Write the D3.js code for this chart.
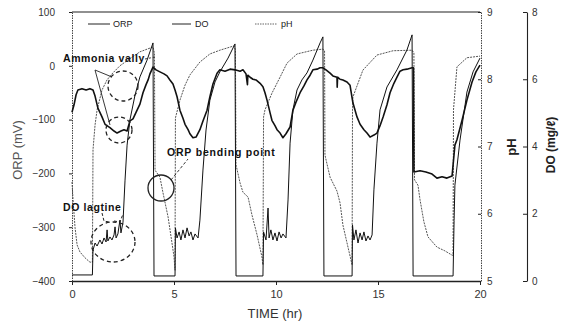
<!DOCTYPE html>
<html><head><meta charset="utf-8">
<script src="https://cdn.jsdelivr.net/npm/d3@7"></script>
<style>
body{margin:0;background:#fff}
svg{display:block}
text{font-family:"Liberation Sans",Arial,sans-serif}
</style></head>
<body><svg id="c" width="561" height="324"></svg>
<script>
// ---- data ----
const timeTicks = [0,5,10,15,20];
const orpTicks = [-400,-300,-200,-100,0,100];
const phTicks = [5,6,7,8,9];
const doTicks = [0,2,4,6,8];

const orpTime = [0,0.05,0.15,0.25,0.39,0.64,0.88,1.0,1.03,1.13,1.23,1.47,1.72,2.01,2.35,2.75,3.33,3.97,4.04,4.07,4.31,4.46,4.71,4.90,5.0,5.05,
 5.07,5.29,5.54,5.78,6.27,6.76,7.25,7.94,8.01,8.04,8.24,8.38,8.63,8.82,9.07,9.31,9.36,
 9.39,9.46,9.80,10.20,10.54,11.03,11.81,12.30,12.38,12.40,12.65,12.99,13.14,13.28,13.48,13.73,
 13.75,13.77,14.26,14.95,15.74,16.67,16.76,16.79,16.96,17.06,17.25,17.45,17.89,18.28,18.63,18.68,
 18.70,18.87,19.36,20];
const orpValue = [-216,-249,-301,-333,-346,-357,-365,-365,-156,-110,-82,-45,-26,-13,0,11,26,35,24,-194,-207,-236,-281,-329,-355,-380,
 -97,-64,-36,-17,7,22,29,37,30,-184,-218,-235,-244,-277,-314,-355,-370,
 -95,-82,-51,-21,5,22,29,31,28,-166,-207,-233,-255,-296,-329,-370,
 -82,-58,-8,20,28,29,24,-212,-222,-249,-290,-318,-337,-344,-352,-352,
 -82,-2,15,18];

const doTime = [0,1.0,1.03,1.13,1.23,1.37,1.47,1.57,1.67,1.72,1.76,1.86,1.96,2.06,2.11,2.16,2.25,2.35,2.40,2.50,2.60,2.70,2.84,3.09,3.33,3.68,3.97,4.02,5.05,
 5.07,5.15,5.25,5.34,5.44,5.54,5.64,5.74,5.83,5.93,6.03,6.18,6.27,6.42,6.57,6.76,7.01,7.25,7.65,7.99,8.04,9.36,
 9.39,9.51,9.61,9.66,9.75,9.85,9.95,10.05,10.15,10.25,10.34,10.49,10.59,10.69,10.83,11.03,11.27,11.52,11.81,12.16,12.30,12.35,13.73,
 13.75,13.82,13.92,14.02,14.12,14.22,14.31,14.41,14.51,14.61,14.71,14.80,14.95,15.10,15.44,15.93,16.42,16.67,16.72,18.68,
 18.73,18.77,19.02,19.36,19.66,20.0];
const doValue = [0.18,0.18,0.92,1.13,1.04,1.22,1.10,1.28,1.16,1.52,1.19,1.31,1.22,1.37,1.61,1.28,1.40,1.81,1.43,1.75,3.0,4.04,4.79,5.53,6.07,6.57,7.08,0.15,0.15,
 1.58,1.28,1.46,1.22,1.52,1.28,1.58,1.34,1.46,1.22,1.40,1.28,1.81,3.30,4.49,5.38,5.92,6.22,6.63,7.05,0.15,0.15,
 1.46,1.22,2.17,1.28,1.52,1.22,1.43,1.19,1.46,1.28,1.40,1.28,2.41,4.10,5.09,5.68,5.98,6.19,6.57,7.08,7.26,0.15,0.15,
 1.67,1.22,1.52,1.13,1.43,1.22,1.46,1.19,1.34,1.22,1.37,2.71,4.10,5.09,5.77,6.28,6.87,7.32,0.15,0.15,
 1.8,2.85,4.19,5.62,6.22,6.63];

const phTime = [0,0.10,0.20,0.29,0.49,0.69,0.88,1.03,1.13,1.27,1.47,1.62,1.86,2.06,2.21,2.40,2.55,2.70,2.84,2.99,3.19,3.33,3.48,3.63,3.73,3.82,3.97,
 4.12,4.31,4.51,4.66,4.80,4.95,5.05,5.15,5.29,5.44,5.54,5.69,5.78,5.93,6.08,6.27,6.42,6.62,6.76,6.91,7.11,7.25,7.50,7.75,7.99,8.24,8.38,8.53,8.60,8.62,8.73,8.87,9.02,9.22,9.36,
 9.46,9.56,9.71,9.80,9.95,10.05,10.20,10.34,10.49,10.69,10.83,10.98,11.18,11.37,11.52,11.67,11.81,12.01,12.16,12.30,12.45,12.65,12.79,12.99,13.00,13.02,13.14,13.28,13.48,13.63,
 13.77,13.97,14.12,14.31,14.46,14.61,14.80,14.95,15.10,15.25,15.44,15.59,15.78,15.93,16.08,16.23,16.42,16.67,16.74,16.76,17.06,17.35,17.65,17.89,18.14,18.38,18.63,
 18.77,18.87,19.12,19.36,19.61,19.80,20.0];
const phValue = [7.51,7.62,7.77,7.84,7.86,7.84,7.86,7.84,7.75,7.57,7.44,7.33,7.28,7.23,7.20,7.23,7.25,7.23,7.38,7.41,7.54,7.63,7.80,7.92,7.99,8.08,8.18,
 8.14,8.11,8.08,8.05,7.99,7.93,7.84,7.74,7.54,7.42,7.33,7.25,7.19,7.13,7.14,7.25,7.38,7.54,7.74,7.93,8.09,8.14,8.12,8.15,8.14,8.12,8.14,8.08,7.92,8.06,8.03,8.00,7.99,7.94,7.89,
 7.80,7.69,7.50,7.39,7.31,7.25,7.20,7.13,7.19,7.29,7.54,7.66,7.80,7.90,7.99,8.06,8.14,8.15,8.17,8.17,8.14,8.09,8.05,8.03,7.88,8.03,8.00,7.99,7.96,7.91,
 7.65,7.44,7.33,7.25,7.20,7.14,7.17,7.20,7.31,7.44,7.62,7.80,7.94,8.03,8.12,8.14,8.15,8.17,8.17,6.62,6.64,6.62,6.59,6.53,6.55,6.53,6.56,
 7.02,7.10,7.39,7.69,7.96,8.11,8.21];

// ---- drawing ----
const svg = d3.select("#c");
const x = d3.scaleLinear([0,20],[72,480]);
const yORP = d3.scaleLinear([-400,100],[281,12]);
const yPH = d3.scaleLinear([5,9],[281,12]);
const yDO = d3.scaleLinear([0,8],[281,12]);
const ink = "#222";

// frame top
svg.append("line").attr("x1",x(0)).attr("x2",x(20)).attr("y1",yORP(100)).attr("y2",yORP(100))
  .attr("stroke",ink).attr("stroke-width",1.2);

// axes
function styleAxis(g, size){
  g.selectAll("text").attr("fill","#333").style("font-size",size+"px");
  g.selectAll(".tick line").attr("stroke",ink);
}
const gx = svg.append("g").attr("transform","translate(0,281)")
  .call(d3.axisBottom(x).tickValues(timeTicks).tickSize(4).tickPadding(5).tickSizeOuter(0));
gx.select(".domain").attr("stroke",ink).attr("stroke-width",1.3);
styleAxis(gx,11);

const gl = svg.append("g").attr("transform","translate(72,0)")
  .call(d3.axisLeft(yORP).tickValues(orpTicks).tickSize(3).tickPadding(14).tickSizeOuter(0));
gl.select(".domain").attr("stroke","#444").attr("stroke-dasharray","1.5,1");
styleAxis(gl,10);

const gp = svg.append("g").attr("transform","translate(481,0)")
  .call(d3.axisRight(yPH).tickValues(phTicks).tickFormat(d3.format("d")).tickSize(0).tickPadding(6).tickSizeOuter(0));
gp.select(".domain").attr("stroke","#444").attr("stroke-dasharray","1.5,1");
gp.selectAll(".tick").append("line").attr("x1",-3).attr("x2",0).attr("stroke",ink);
styleAxis(gp,10);

const gd = svg.append("g").attr("transform","translate(527,0)")
  .call(d3.axisRight(yDO).tickValues(doTicks).tickFormat(d3.format("d")).tickSize(0).tickPadding(5).tickSizeOuter(0));
gd.select(".domain").attr("stroke",ink).attr("stroke-width",1.1);
gd.selectAll(".tick").append("line").attr("x1",-4).attr("x2",0).attr("stroke",ink);
styleAxis(gd,10);

// axis titles
svg.append("text").attr("transform","translate(22,150) rotate(-90)").attr("text-anchor","middle")
  .attr("fill","#555").style("font-size","13px").text("ORP (mV)");
svg.append("text").attr("x",275).attr("y",318).attr("text-anchor","middle")
  .attr("fill","#333").style("font-size","13px").text("TIME (hr)");
svg.append("text").attr("transform","translate(516,147) rotate(-90)").attr("text-anchor","middle")
  .attr("fill",ink).style("font-size","13px").style("font-weight","bold").text("pH");
svg.append("text").attr("transform","translate(555,145) rotate(-90)").attr("text-anchor","middle")
  .attr("fill",ink).style("font-size","12px").style("font-weight","bold").text("DO (mg/ℓ)");

// series
const lineORP = d3.line().x((d,i)=>x(orpTime[i])).y(d=>yORP(d));
const lineDO = d3.line().x((d,i)=>x(doTime[i])).y(d=>yDO(d));
const linePH = d3.line().x((d,i)=>x(phTime[i])).y(d=>yPH(d));

svg.append("path").attr("d",lineORP(orpValue)).attr("fill","none")
  .attr("stroke","#555").attr("stroke-width",1).attr("stroke-dasharray","2,1");
svg.append("path").attr("d",lineDO(doValue)).attr("fill","none")
  .attr("stroke","#111").attr("stroke-width",1);
svg.append("path").attr("d",linePH(phValue)).attr("fill","none")
  .attr("stroke","#111").attr("stroke-width",1.6).attr("stroke-linejoin","round");

// legend
const lg = svg.append("g");
lg.append("line").attr("x1",88).attr("x2",110).attr("y1",24).attr("y2",24).attr("stroke",ink);
lg.append("text").attr("x",113).attr("y",27).style("font-size","9px").attr("fill",ink).text("ORP");
lg.append("line").attr("x1",172).attr("x2",191).attr("y1",24).attr("y2",24).attr("stroke",ink);
lg.append("text").attr("x",195).attr("y",27).style("font-size","9px").attr("fill",ink).text("DO");
lg.append("line").attr("x1",255).attr("x2",277).attr("y1",24).attr("y2",24).attr("stroke","#666").attr("stroke-dasharray","1.5,1");
lg.append("text").attr("x",281).attr("y",27).style("font-size","9px").attr("fill",ink).text("pH");

// annotations
const ann = svg.append("g").attr("fill","none").attr("stroke",ink);
ann.append("circle").attr("cx",123).attr("cy",86).attr("r",15).attr("stroke-dasharray","4,3").attr("stroke-width",1.3);
ann.append("circle").attr("cx",119).attr("cy",130).attr("r",13).attr("stroke-dasharray","4,3").attr("stroke-width",1.3);
ann.append("ellipse").attr("cx",113).attr("cy",242).attr("rx",22).attr("ry",20).attr("stroke-dasharray","4,3").attr("stroke-width",1.3);
ann.append("circle").attr("cx",161).attr("cy",188).attr("r",13).attr("stroke-width",1.3);
ann.append("path").attr("d","M95,70 L112,77 M95,70 L110,125").attr("stroke-width",0.9);
ann.append("path").attr("d","M145,59 L155,57").attr("stroke-width",0.9).attr("stroke-dasharray","2,2");
ann.append("path").attr("d","M171,180 L188,159").attr("stroke-width",0.9).attr("stroke-dasharray","3,2");
ann.append("path").attr("d","M102,213 L104,221 L109,222 M114,221 L120,222 L123,214").attr("stroke-width",1).attr("stroke-dasharray","3,2");

const at = svg.append("g").attr("fill","#111").style("font-weight","bold").style("font-size","10.5px");
at.append("text").attr("x",63).attr("y",62).style("letter-spacing","0.6px").text("Ammonia vally");
at.append("text").attr("x",167).attr("y",156).style("letter-spacing","0.8px").text("ORP bending point");
at.append("text").attr("x",63).attr("y",211).style("letter-spacing","0.6px").text("DO lagtine");
</script></body></html>
